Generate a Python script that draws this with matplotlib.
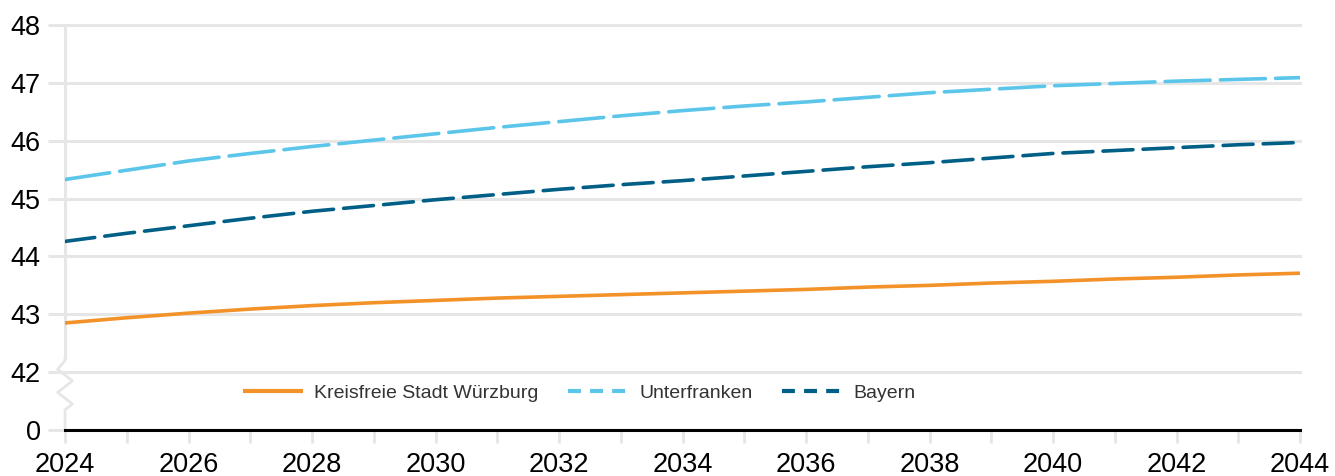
import matplotlib
matplotlib.use("Agg")
import matplotlib.pyplot as plt
from matplotlib.lines import Line2D
import numpy as np

years = list(range(2024, 2045))
wuerzburg = [42.85, 42.94, 43.02, 43.09, 43.15, 43.20, 43.24, 43.28, 43.31, 43.34, 43.37,
             43.40, 43.43, 43.47, 43.50, 43.54, 43.57, 43.61, 43.64, 43.68, 43.71]
unterfranken = [45.33, 45.49, 45.65, 45.78, 45.90, 46.01, 46.12, 46.23, 46.33, 46.43, 46.52,
                46.60, 46.67, 46.75, 46.83, 46.89, 46.95, 46.99, 47.03, 47.06, 47.09]
bayern = [44.26, 44.40, 44.53, 44.66, 44.78, 44.88, 44.98, 45.07, 45.16, 45.24, 45.31,
          45.39, 45.47, 45.55, 45.62, 45.70, 45.78, 45.83, 45.88, 45.93, 45.97]
series_names = ["Kreisfreie Stadt Würzburg", "Unterfranken", "Bayern"]
colors = ["#F39229", "#5BC5EA", "#005F86"]
ytick_values = [0, 42, 43, 44, 45, 46, 47, 48]
xtick_labels = list(range(2024, 2045, 2))

plt.rcParams['font.family'] = ['Liberation Sans', 'DejaVu Sans']

fig = plt.figure(figsize=(13.35, 4.76), dpi=100)
W, H = 1335, 476
ax = fig.add_axes([65 / W, (H - 430) / H, (1300 - 65) / W, (430 - 25) / H])

# broken axis: value 0 shown at position 41
def ypos(v):
    return 41 if v == 0 else v

grid_c = "#E6E6E6"
for v in ytick_values:
    if v != 0:
        ax.axhline(ypos(v), color=grid_c, lw=2.2, zorder=0, clip_on=False)

lw = 2.6
ax.plot(years, wuerzburg, color=colors[0], lw=lw, solid_capstyle='round', zorder=3)
ax.plot(years, unterfranken, color=colors[1], lw=lw, dashes=(12.5, 2.8), dash_capstyle='round', zorder=3)
ax.plot(years, bayern, color=colors[2], lw=lw, dashes=(8.3, 2.8), dash_capstyle='round', zorder=3)

ax.set_xlim(2024, 2044)
ax.set_ylim(41, 48)

for s in ['top', 'right', 'left']:
    ax.spines[s].set_visible(False)
ax.spines['bottom'].set_color('black')
ax.spines['bottom'].set_linewidth(2.2)
ax.spines['bottom'].set_zorder(4)

# left axis line with zigzag break
ax.plot([2024, 2024], [42.25, 48], color=grid_c, lw=2.2, clip_on=False, zorder=1)
zx = np.array([0, 0, -0.12, 0.12, -0.12, 0.12, 0, 0])
zy = np.array([42.25, 42.2, 42.05, 41.85, 41.65, 41.45, 41.35, 41.0])
ax.plot(2024 + zx, zy, color=grid_c, lw=2.0, clip_on=False, zorder=1)

ax.set_yticks([ypos(v) for v in ytick_values])
ax.set_yticklabels([str(v) for v in ytick_values])
ax.tick_params(axis='y', length=12.5, width=2.2, color=grid_c, labelsize=19.5, pad=5)

ax.set_xticks(years)
ax.set_xticklabels([str(y) if y in xtick_labels else "" for y in years])
ax.tick_params(axis='x', length=9, width=2.0, color=grid_c, labelsize=19.5, pad=7)

handles = [
    Line2D([], [], color=colors[0], lw=3.0, solid_capstyle='butt'),
    Line2D([], [], color=colors[1], lw=3.0, dashes=(3.1, 2.2), dash_capstyle='butt'),
    Line2D([], [], color=colors[2], lw=3.0, dashes=(3.1, 2.2), dash_capstyle='butt'),
]
leg = ax.legend(handles, series_names, loc='center left',
                bbox_to_anchor=((243 - 65) / (1300 - 65), (430 - 393) / (430 - 25)),
                ncol=3, frameon=False, fontsize=14, handlelength=3.1, handletextpad=0.57,
                columnspacing=1.5, borderaxespad=0, borderpad=0)
for t in leg.get_texts():
    t.set_color("#333333")

fig.savefig("out.png", dpi=100)
